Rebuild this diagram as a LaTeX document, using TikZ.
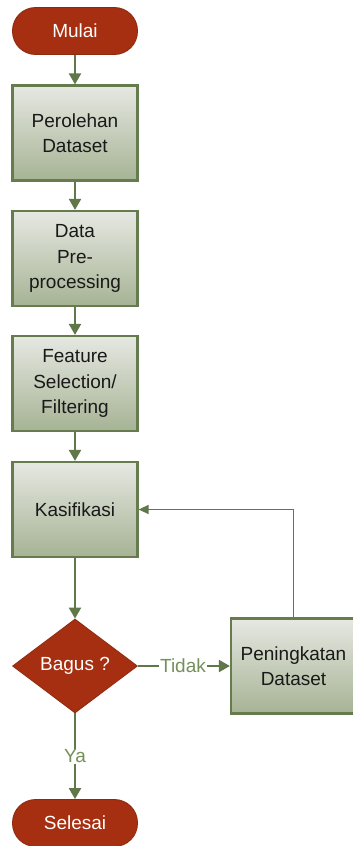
\documentclass[tikz,border=0pt]{standalone}
\usepackage{fontspec}
\setmainfont{Liberation Sans}
\usetikzlibrary{shapes.geometric,arrows.meta}
\definecolor{termred}{HTML}{A52F10}
\definecolor{termedge}{HTML}{8E2A10}
\definecolor{boxtop}{HTML}{E6E8E2}
\definecolor{boxbot}{HTML}{A6B394}
\definecolor{boxedge}{HTML}{667C4E}
\definecolor{linegreen}{HTML}{5F7749}
\definecolor{labgreen}{HTML}{74905A}
\tikzset{
  terminal/.style={rectangle, rounded corners=23pt, fill=termred, draw=termedge, line width=0.8pt,
    minimum width=125pt, minimum height=47pt, inner sep=0pt, text=white, font=\fontsize{19}{25}\selectfont},
  procbox/.style={rectangle, top color=boxtop, bottom color=boxbot, draw=boxedge, line width=2.2pt,
    minimum width=125pt, minimum height=95pt, inner sep=2pt, align=center, text width=118pt,
    text=black!90, font=\fontsize{19}{25.5}\selectfont},
  decision/.style={diamond, aspect=1.33, fill=termred, draw=termedge, line width=0.8pt,
    minimum width=125pt, minimum height=94pt, inner sep=0pt, text=white, font=\fontsize{19}{25}\selectfont},
  flow/.style={draw=linegreen, line width=2pt, -{Triangle[width=12pt,length=11pt]}},
  thinflow/.style={draw=linegreen, line width=1.3pt, -{Triangle[width=9pt,length=10pt]}},
  lab/.style={fill=white, text=labgreen, inner sep=1pt, font=\fontsize{19}{25}\selectfont}
}
\begin{document}
\begin{tikzpicture}[x=1pt,y=-1pt]
\useasboundingbox (0,0) rectangle (353,846);
\node[terminal] (start) at (75,31) {Mulai};
\node[procbox] (p1) at (75,133) {Perolehan\\Dataset};
\node[procbox] (p2) at (75,258.5) {Data\\Pre-\\processing};
\node[procbox] (p3) at (75,383.5) {Feature\\Selection/\\Filtering};
\node[procbox] (p4) at (75,509.5) {Kasifikasi};
\node[decision] (d) at (75,666) {Bagus ?};
\node[procbox] (p5) at (293.5,666) {Peningkatan\\Dataset};
\node[terminal] (end) at (75,823) {Selesai};
\coordinate (c1) at (293.5,509.5);
\draw[flow] (start) -- (p1);
\draw[flow] (p1) -- (p2);
\draw[flow] (p2) -- (p3);
\draw[flow] (p3) -- (p4);
\draw[flow] (p4) -- (d);
\draw[flow] (d) -- node[lab] (ya) {Ya} (end);
\draw[flow] (d) -- node[lab, pos=0.49] (tidak) {Tidak} (p5);
\draw[thinflow] (p5.north) -- (c1) -- (p4.east);
\end{tikzpicture}
\end{document}
